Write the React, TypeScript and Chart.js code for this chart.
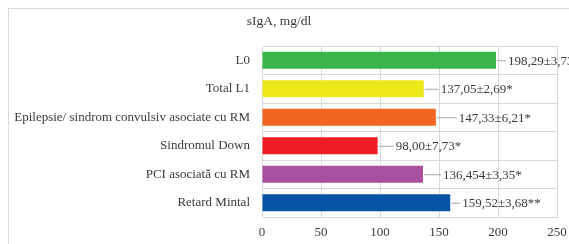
import React, { useEffect, useRef } from "react";
import { Chart, registerables } from "chart.js";

Chart.register(...registerables);

const titleText = "sIgA, mg/dl";
const categories = [
  "L0",
  "Total L1",
  "Epilepsie/ sindrom convulsiv asociate cu RM",
  "Sindromul Down",
  "PCI asociată cu RM",
  "Retard Mintal",
];
const values = [198.29, 137.05, 147.33, 98.0, 136.454, 159.52];
const valueLabels = [
  "198,29±3,73",
  "137,05±2,69*",
  "147,33±6,21*",
  "98,00±7,73*",
  "136,454±3,35*",
  "159,52±3,68**",
];
const barColors = ["#3bb54a", "#eee81a", "#f26522", "#ee1c25", "#a84f9f", "#0652a5"];
const labelGaps = [12, 17, 23, 18, 20, 12];
const xTicks = [0, 50, 100, 150, 200, 250];

const FONT = "'Liberation Serif', 'Times New Roman', serif";
const TEXT = "#3a3a3a";

const labelPlugin = {
  id: "barLabels",
  afterDatasetsDraw(chart: any) {
    const ctx = chart.ctx;
    const meta = chart.getDatasetMeta(0);
    ctx.save();
    // title
    ctx.font = `13.5px ${FONT}`;
    ctx.fillStyle = TEXT;
    ctx.textAlign = "center";
    ctx.textBaseline = "middle";
    ctx.fillText(titleText, chart.width / 2 - 10, 12);
    // value labels
    ctx.font = `13px ${FONT}`;
    ctx.textAlign = "left";
    meta.data.forEach((bar: any, i: number) => {
      const x = bar.x;
      const y = bar.y;
      const gap = labelGaps[i];
      ctx.strokeStyle = "#a6a6a6";
      ctx.lineWidth = 1;
      ctx.beginPath();
      ctx.moveTo(x + 1, y + 0.5);
      ctx.lineTo(x + gap - 2, y + 0.5);
      ctx.stroke();
      ctx.fillStyle = TEXT;
      ctx.fillText(valueLabels[i], x + gap, y + 1);
    });
    ctx.restore();
  },
};

export default function App() {
  const ref = useRef<HTMLCanvasElement>(null);
  useEffect(() => {
    document.body.style.margin = "8px 0 0 8px";
    document.documentElement.style.overflow = "hidden";
    document.body.style.overflow = "hidden";
    if (!ref.current) return;
    const chart = new Chart(ref.current, {
      type: "bar",
      data: {
        labels: categories,
        datasets: [
          {
            data: values,
            backgroundColor: barColors,
            borderWidth: 0,
            barPercentage: 0.6,
            categoryPercentage: 1,
          },
        ],
      },
      options: {
        indexAxis: "y",
        animation: false,
        responsive: false,
        maintainAspectRatio: false,
        layout: { padding: { top: 37, right: 12, bottom: 0, left: 0 } },
        plugins: {
          legend: { display: false },
          tooltip: { enabled: false },
          title: { display: false },
        },
        scales: {
          x: {
            min: 0,
            max: 250,
            afterBuildTicks(scale: any) {
              scale.ticks = xTicks.map((v) => ({ value: v }));
            },
            afterFit(scale: any) {
              scale.height = 27;
              scale.paddingLeft = 0;
              scale.paddingRight = 0;
            },
            grid: { color: "#d9d9d9", drawTicks: false },
            border: { color: "#d9d9d9" },
            ticks: {
              padding: 8,
              color: TEXT,
              font: { family: FONT, size: 13 },
            },
          },
          y: {
            afterFit(scale: any) {
              scale.width = 253;
              scale.paddingTop = 0;
              scale.paddingBottom = 0;
            },
            grid: { color: "#d9d9d9", drawTicks: false, offset: true },
            border: { color: "#d9d9d9" },
            ticks: {
              padding: 12,
              color: TEXT,
              font: { family: FONT, size: 13 },
            },
          },
        },
      },
      plugins: [labelPlugin],
    } as any);
    return () => chart.destroy();
  }, []);
  return (
    <div
      style={{
        width: 561,
        height: 236,
        borderTop: "1px solid #d9d9d9",
        borderLeft: "1px solid #d9d9d9",
        boxSizing: "border-box",
        overflow: "hidden",
        background: "#fff",
      }}
    >
      <canvas ref={ref} width={560} height={235} style={{ display: "block" }} />
    </div>
  );
}
